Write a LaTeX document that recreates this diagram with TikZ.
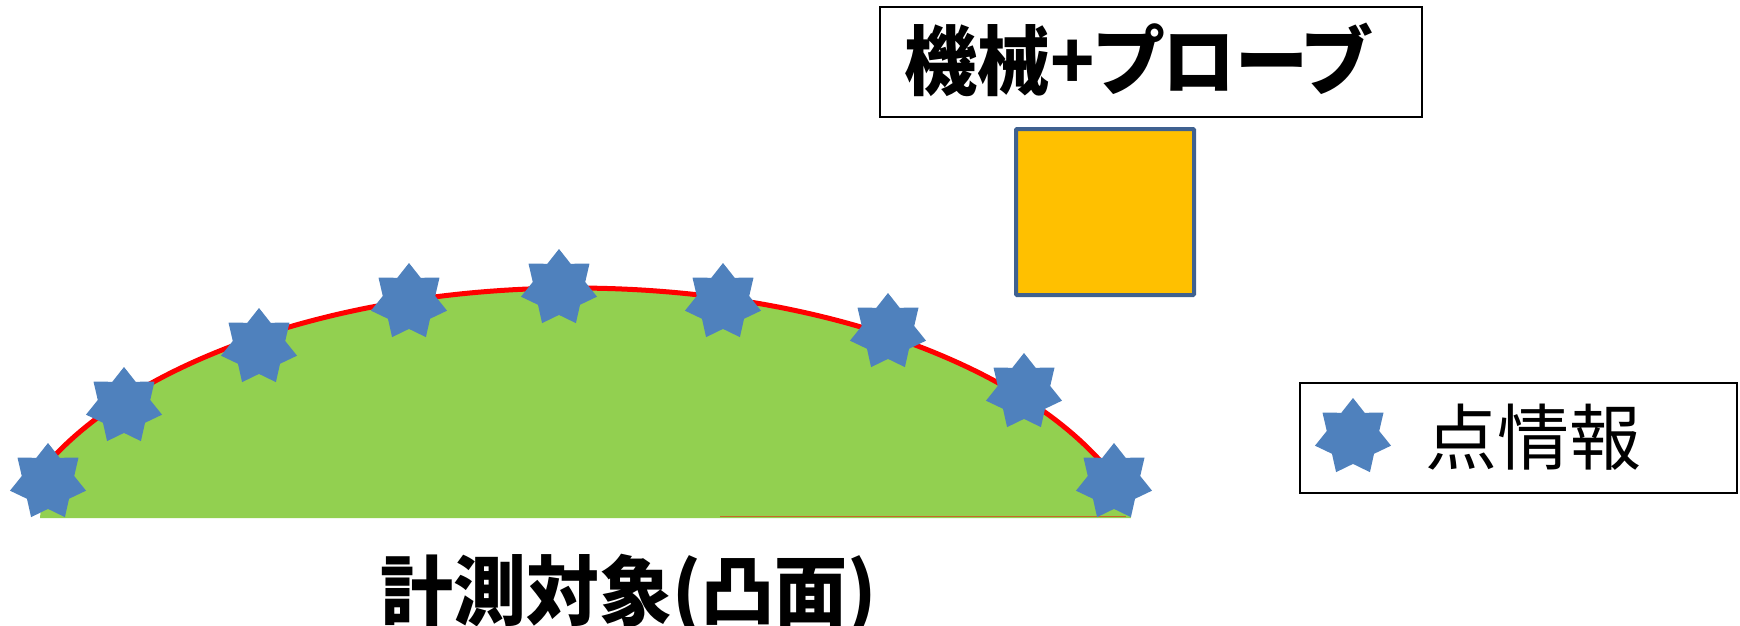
\documentclass[tikz,border=0pt]{standalone}
\usepackage{fontspec}
\usetikzlibrary{shapes.geometric}
\newfontfamily\jp{Noto Sans CJK JP}
\newfontfamily\jpp{Noto Sans CJK JP}[RawFeature=+palt]
\definecolor{starblue}{HTML}{4F81BD}
\definecolor{domegreen}{HTML}{92D050}
\definecolor{probeorange}{HTML}{FFC000}
\definecolor{probeedge}{HTML}{3F6190}
\tikzset{
  pstar/.style={star, star points=7, star point ratio=1.45, minimum size=78pt,
    inner sep=0pt, fill=starblue, draw=none},
  framebox/.style={draw=black, line width=2pt, fill=white}
}
\begin{document}
\begin{tikzpicture}[x=1pt,y=-1pt]
\useasboundingbox (0,0) rectangle (1740,626);
% dome
\fill[domegreen] plot[domain=156:22, samples=120] ({575+580*cos(\x)},{588-300*sin(\x)})
  -- (1131,518) -- (40,518) -- cycle;
\draw[red, line width=5pt, line cap=round] plot[domain=155:23, samples=120] ({575+580*cos(\x)},{588-300*sin(\x)});
\draw[red!50!domegreen, line width=1pt] (720,516) -- (1126,516);
% stars
\node[pstar] (s1) at (48,482) {};
\node[pstar] (s2) at (124,406) {};
\node[pstar] (s3) at (259,347) {};
\node[pstar] (s4) at (409,302) {};
\node[pstar] (s5) at (559,288) {};
\node[pstar] (s6) at (723,302) {};
\node[pstar] (s7) at (888,332) {};
\node[pstar] (s8) at (1024,392) {};
\node[pstar] (s9) at (1114,482) {};
% probe
\draw[framebox] (880,7) rectangle (1422,117);
\node[anchor=west, inner sep=0pt, xscale=0.96, transform shape] (probelabel) at (904,60)
  {\fontsize{76pt}{76pt}\jpp\bfseries 機械+プローブ};
\draw[fill=probeorange, draw=probeedge, line width=4pt, rounded corners=1pt] (1016,129) rectangle (1194,295);
\coordinate (probe) at (1105,212);
% legend
\draw[framebox] (1300,383) rectangle (1737,493);
\node[pstar] (legstar) at (1353,437) {};
\node[anchor=west, inner sep=0pt] (legtext) at (1425,437) {\fontsize{72pt}{72pt}\jp 点情報};
% object label
\node[anchor=west, inner sep=0pt, xscale=0.96, transform shape] (objlabel) at (380,595) {\fontsize{76pt}{76pt}\jpp\bfseries 計測対象(凸面)};
\end{tikzpicture}
\end{document}
